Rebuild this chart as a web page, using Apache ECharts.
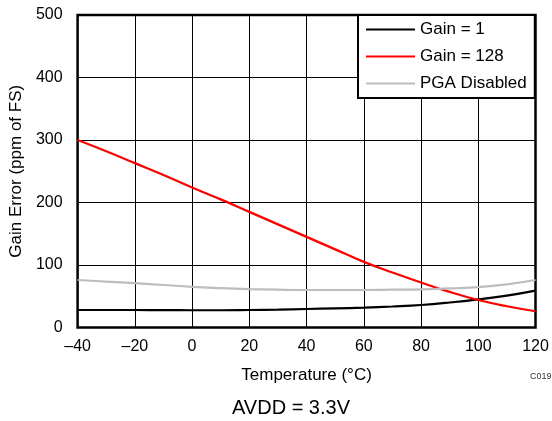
<!DOCTYPE html>
<html>
<head>
<meta charset="utf-8">
<style>
  html, body { margin: 0; padding: 0; background: #fff; }
  #chart { width: 552px; height: 421px; }
</style>
<script src="https://cdn.jsdelivr.net/npm/echarts@6/dist/echarts.min.js"></script>
</head>
<body>
<div id="chart"></div>
<script>
// Temperature sweep (°C)
const temperature = [-40, -30, -20, -10, 0, 10, 20, 30, 40, 50, 60, 70, 80, 90, 100, 110, 120];

// Gain error (ppm of FS) for each configuration
const gain1 = [28, 28, 28, 27.8, 27.6, 27.6, 28, 28.6, 29.6, 30.6, 31.8, 33.6, 36, 40, 45, 51, 59];
const gain128 = [300, 282, 263, 244, 224, 205, 185, 165, 145, 125, 105, 88, 72, 57, 44, 34, 26];
const pgaDisabled = [76, 73.5, 71, 68, 65, 63, 61.5, 60.5, 60, 60, 60, 60.5, 61, 62.5, 64.5, 69, 76];

const seriesNames = ['Gain = 1', 'Gain = 128', 'PGA Disabled'];
const seriesColors = ['#000000', '#ff0000', '#bdbdbd'];
const seriesValues = [gain1, gain128, pgaDisabled];

const FONT = '"Liberation Sans", Arial, Helvetica, sans-serif';

const chart = echarts.init(document.getElementById('chart'), null, { renderer: 'canvas' });

const pairs = vals => temperature.map((t, i) => [t, vals[i]]);

chart.setOption({
  animation: false,
  backgroundColor: '#ffffff',
  textStyle: { fontFamily: FONT, color: '#000' },
  grid: {
    left: 77.5, top: 15, right: 16.5, bottom: 93.5,
    show: true, borderColor: '#000', borderWidth: 2.5, backgroundColor: 'transparent'
  },
  xAxis: {
    type: 'value', min: -40, max: 120, interval: 20,
    name: 'Temperature (°C)', nameLocation: 'middle', nameGap: 39,
    nameTextStyle: { fontSize: 17, color: '#000', fontFamily: FONT },
    axisLine: { show: false }, axisTick: { show: false },
    axisLabel: {
      fontSize: 16, color: '#000', margin: 11, fontFamily: FONT,
      formatter: v => String(v).replace('-', '\u2013')
    },
    splitLine: { show: true, lineStyle: { color: '#000', width: 1 } }
  },
  yAxis: {
    type: 'value', min: 0, max: 500, interval: 100,
    name: 'Gain Error (ppm of FS)', nameLocation: 'middle', nameGap: 52,
    nameTextStyle: { fontSize: 17, color: '#000', fontFamily: FONT },
    axisLine: { show: false }, axisTick: { show: false },
    axisLabel: { fontSize: 16, color: '#000', margin: 15, fontFamily: FONT },
    splitLine: { show: true, lineStyle: { color: '#000', width: 1 } }
  },
  legend: {
    orient: 'vertical', left: 358, top: 15,
    padding: [6, 8, 6, 8], itemGap: 10, itemWidth: 49, itemHeight: 2.2,
    icon: 'rect',
    backgroundColor: '#fff', borderColor: '#000', borderWidth: 2, z: 10,
    textStyle: { fontSize: 17, color: '#000', fontFamily: FONT, lineHeight: 17 },
    data: seriesNames
  },
  graphic: [
    {
      type: 'text', left: 530, top: 372,
      style: { text: 'C019', fontSize: 9, fill: '#333', fontFamily: FONT }
    },
    {
      type: 'text', x: 291, y: 408,
      style: { text: 'AVDD = 3.3V', fontSize: 20, fill: '#000', fontFamily: FONT, align: 'center', verticalAlign: 'middle' }
    }
  ],
  series: seriesNames.map((name, i) => ({
    name,
    type: 'line',
    data: pairs(seriesValues[i]),
    smooth: 0.45,
    symbol: 'none',
    z: 3,
    lineStyle: { color: seriesColors[i], width: 2.2 },
    itemStyle: { color: seriesColors[i] }
  }))
});
</script>
</body>
</html>
